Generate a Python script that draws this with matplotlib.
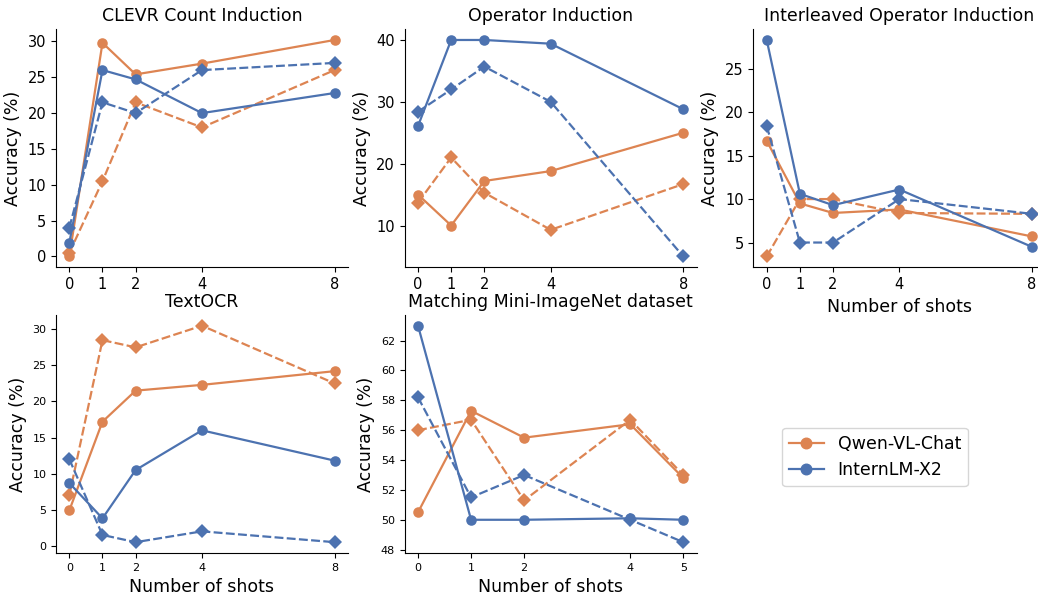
import matplotlib
matplotlib.use("Agg")
import matplotlib.pyplot as plt
from matplotlib.lines import Line2D

ORANGE = "#DD8452"
BLUE = "#4C72B0"

shots = [0, 1, 2, 4, 8]
shots_mini = [0, 1, 2, 4, 5]

titles = ["CLEVR Count Induction", "Operator Induction", "Interleaved Operator Induction",
          "TextOCR", "Matching Mini-ImageNet dataset"]

# qwen solid / qwen dashed / intern solid / intern dashed
clevr_qwen = [0.0, 29.8, 25.4, 26.9, 30.2]
clevr_qwen_d = [0.5, 10.5, 21.5, 18.0, 26.0]
clevr_intern = [1.9, 26.0, 24.7, 20.0, 22.8]
clevr_intern_d = [4.0, 21.5, 20.0, 26.0, 27.0]

op_qwen = [15.0, 10.0, 17.2, 18.8, 25.0]
op_qwen_d = [13.7, 21.0, 15.3, 9.3, 16.7]
op_intern = [26.1, 40.0, 40.0, 39.4, 28.8]
op_intern_d = [28.4, 32.0, 35.7, 30.0, 5.0]

inter_qwen = [16.7, 9.5, 8.4, 8.8, 5.7]
inter_qwen_d = [3.4, 10.0, 10.0, 8.4, 8.3]
inter_intern = [28.3, 10.6, 9.3, 11.1, 4.5]
inter_intern_d = [18.4, 5.0, 5.0, 10.0, 8.3]

ocr_qwen = [4.9, 17.2, 21.5, 22.3, 24.2]
ocr_qwen_d = [7.0, 28.5, 27.5, 30.5, 22.5]
ocr_intern = [8.7, 3.8, 10.5, 16.0, 11.8]
ocr_intern_d = [12.0, 1.5, 0.5, 2.0, 0.5]

mini_qwen = [50.5, 57.3, 55.5, 56.4, 52.8]
mini_qwen_d = [56.0, 56.7, 51.3, 56.7, 53.0]
mini_intern = [63.0, 50.0, 50.0, 50.1, 50.0]
mini_intern_d = [58.2, 51.5, 53.0, 50.0, 48.5]

panels = [
    (shots, clevr_qwen, clevr_qwen_d, clevr_intern, clevr_intern_d, [0, 5, 10, 15, 20, 25, 30]),
    (shots, op_qwen, op_qwen_d, op_intern, op_intern_d, [10, 20, 30, 40]),
    (shots, inter_qwen, inter_qwen_d, inter_intern, inter_intern_d, [5, 10, 15, 20, 25]),
    (shots, ocr_qwen, ocr_qwen_d, ocr_intern, ocr_intern_d, [0, 5, 10, 15, 20, 25, 30]),
    (shots_mini, mini_qwen, mini_qwen_d, mini_intern, mini_intern_d, [48, 50, 52, 54, 56, 58, 60, 62]),
]

fig, axes = plt.subplots(2, 3, figsize=(10.38, 5.95), dpi=100)
fig.subplots_adjust(left=0.054, right=1.007, top=0.951, bottom=0.0706, wspace=0.195, hspace=0.2)
axes = axes.flatten()

for i, (x, qs, qd, isol, idash, yt) in enumerate(panels):
    ax = axes[i]
    kw = dict(lw=1.6, mew=0)
    ax.plot(x, qs, color=ORANGE, marker="o", ms=7.6, **kw)
    ax.plot(x, qd, color=ORANGE, marker="D", ms=7, dashes=(4, 1.5), **kw)
    ax.plot(x, isol, color=BLUE, marker="o", ms=7.6, **kw)
    ax.plot(x, idash, color=BLUE, marker="D", ms=7, dashes=(4, 1.5), **kw)
    ax.set_xticks(x)
    ax.set_yticks(yt)
    ax.set_title(titles[i], fontsize=12.5)
    ax.set_ylabel("Accuracy (%)", fontsize=12.5)
    ax.spines["top"].set_visible(False)
    ax.spines["right"].set_visible(False)
    if i < 3:
        ax.tick_params(labelsize=10.5)
    else:
        ax.tick_params(labelsize=8)
    if i >= 2:
        ax.set_xlabel("Number of shots", fontsize=12.5)

axes[5].axis("off")
handles = [Line2D([], [], color=ORANGE, marker="o", lw=1.6, ms=7.6),
           Line2D([], [], color=BLUE, marker="o", lw=1.6, ms=7.6)]
fig.legend(handles, ["Qwen-VL-Chat", "InternLM-X2"], loc="center",
           bbox_to_anchor=(0.843, 0.232), fontsize=12.5)

fig.savefig("out.png", dpi=100)
